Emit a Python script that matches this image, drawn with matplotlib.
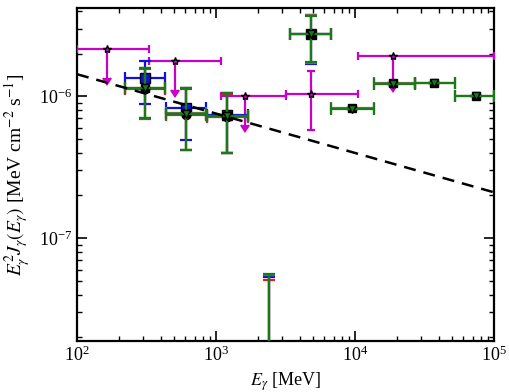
import matplotlib
matplotlib.use("Agg")
import matplotlib.pyplot as plt
import numpy as np

plt.rcParams["font.family"] = "serif"
plt.rcParams["font.serif"] = ["Liberation Serif", "DejaVu Serif"]
plt.rcParams["mathtext.fontset"] = "stix"

# === dados ===
# pontos com barras (verde / cinza), energia em MeV
e_pts = np.array([308, 608, 1200, 2400, 4820, 9500, 18700, 37000, 74300])
e_lo = np.array([221, 437, 861, 1700, 3400, 6700, 13700, 27000, 52400])
e_hi = np.array([430, 848, 1700, 3400, 6710, 13700, 27000, 52400, 100000])

green_y = np.array([1.14e-6, 7.5e-7, 7.2e-7, 1e-9, 2.73e-6, 8.1e-7, 1.22e-6, 1.23e-6, 1.0e-6])
green_lo = np.array([7.0e-7, 4.2e-7, 4.0e-7, 1e-9, 1.73e-6, 8.1e-7, 1.22e-6, 1.23e-6, 1.0e-6])
green_hi = np.array([1.57e-6, 1.14e-6, 1.05e-6, 5.6e-8, 3.7e-6, 8.1e-7, 1.22e-6, 1.23e-6, 1.0e-6])

grey_y = np.array([1.15e-6, 7.6e-7, 7.3e-7, 1e-9, 2.75e-6, 8.2e-7, 1.23e-6, 1.24e-6, 1.0e-6])
grey_lo = np.array([7.0e-7, 4.2e-7, 4.0e-7, 1e-9, 1.72e-6, 8.2e-7, 1.23e-6, 1.24e-6, 1.0e-6])
grey_hi = np.array([1.58e-6, 1.15e-6, 1.06e-6, 5.5e-8, 3.72e-6, 8.2e-7, 1.23e-6, 1.24e-6, 1.0e-6])

# serie azul (quadrados) e vermelha
blue_e = np.array([308, 608, 1200, 2400, 4820])
blue_elo = np.array([221, 437, 861, 1700, 3400])
blue_ehi = np.array([430, 848, 1700, 3400, 6710])
blue_y = np.array([1.34e-6, 8.2e-7, 7.35e-7, 1e-9, 2.73e-6])
blue_lo = np.array([8.8e-7, 4.9e-7, 3.95e-7, 1e-9, 1.70e-6])
blue_hi = np.array([1.76e-6, 1.14e-6, 1.05e-6, 5.3e-8, 3.75e-6])

red_e = np.array([308, 608, 1200, 2400])
red_elo = np.array([221, 437, 861, 1700])
red_ehi = np.array([430, 848, 1700, 3400])
red_y = np.array([1.13e-6, 7.4e-7, 7.1e-7, 1e-9])
red_lo = np.array([6.9e-7, 4.2e-7, 4.0e-7, 1e-9])
red_hi = np.array([1.55e-6, 1.13e-6, 1.04e-6, 5.1e-8])

# limites superiores (magenta)
mag_e = np.array([164, 507, 1620, 4820, 18700])
mag_elo = np.array([100, 330, 1087, 3190, 10500])
mag_ehi = np.array([330, 1087, 3190, 10500, 100000])
mag_y = np.array([2.14e-6, 1.76e-6, 1.0e-6, 1.03e-6, 1.91e-6])
mag_lo = np.array([1.35e-6, 1.11e-6, 6.3e-7, 5.76e-7, 1.2e-6])
mag_hi = np.array([2.14e-6, 1.76e-6, 1.0e-6, 1.5e-6, 1.91e-6])
mag_uplim = np.array([True, True, True, False, True])

# linha tracejada (lei de potencia)
line_e = np.array([1e2, 1e5])
line_y = np.array([1.43e-6, 2.1e-7])

# === grafico ===
fig = plt.figure(figsize=(5.10, 3.92), dpi=100)
ax = fig.add_axes([0.151, 0.130, 0.818, 0.850])
ax.set_xscale("log")
ax.set_yscale("log")


def barras(e, elo, ehi, y, ylo, yhi, cor, marker, mfc, z, uplims=False, cap=4, ms=6):
    ax.errorbar(e, y, xerr=[e - elo, ehi - e], yerr=[y - ylo, yhi - y],
                fmt=marker, color=cor, mfc=mfc, mec="black", ms=ms,
                elinewidth=1.6, capsize=cap, capthick=1.6, uplims=uplims,
                zorder=z)


barras(mag_e, mag_elo, mag_ehi, mag_y, mag_lo, mag_hi, "#c800c8", "*", "#c800c8", 3,
       mag_uplim, cap=3, ms=6)
barras(red_e, red_elo, red_ehi, red_y, red_lo, red_hi, "#e02020", "o", "#e02020", 4)
barras(blue_e, blue_elo, blue_ehi, blue_y, blue_lo, blue_hi, "#1010e0", "s", "#1010e0", 5, ms=7)
barras(e_pts, e_lo, e_hi, grey_y, grey_lo, grey_hi, "#707050", "s", "black", 6)
barras(e_pts, e_lo, e_hi, green_y, green_lo, green_hi, "#1a7a1a", "v", "#1a7a1a", 7)

ax.plot(line_e, line_y, color="black", lw=1.8, dashes=(4.8, 3.2), zorder=8)

ax.set_xlim(1e2, 1e5)
ax.set_ylim(1.88e-8, 4.2e-6)
ax.tick_params(which="both", direction="in", top=True, right=True, labelsize=13)
ax.tick_params(which="major", length=7, width=1.2)
ax.tick_params(which="minor", length=3.5, width=1)
for s in ax.spines.values():
    s.set_linewidth(1.6)

ax.set_xlabel(r"$E_\gamma$ [MeV]", fontsize=13)
ax.set_ylabel(r"$E_\gamma^2 J_\gamma(E_\gamma)$ [MeV cm$^{-2}$ s$^{-1}$]", fontsize=14)

fig.savefig("out.png", dpi=100)
